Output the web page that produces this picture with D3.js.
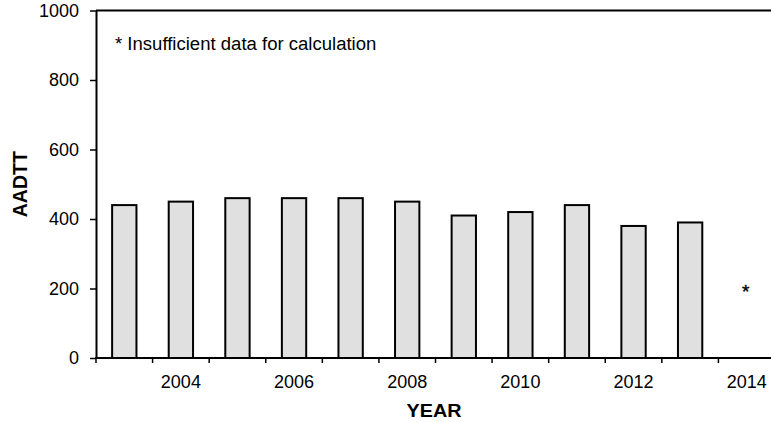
<!DOCTYPE html>
<html><head><meta charset="utf-8">
<script src="https://cdn.jsdelivr.net/npm/d3@7"></script>
<style>
body{margin:0;background:#fff;}
svg{display:block;font-family:"Liberation Sans",Arial,sans-serif;}
</style></head>
<body><svg id="c" width="771" height="422"></svg>
<script>
const years = [2003,2004,2005,2006,2007,2008,2009,2010,2011,2012,2013,2014];
const aadtt = [440,450,460,460,460,450,410,420,440,380,390,null];
const yTicks = [0,200,400,600,800,1000];
const xTickLabels = [2004,2006,2008,2010,2012,2014];
const missingYears = [2014];
const noteText = "* Insufficient data for calculation";

const svg = d3.select("#c");
const L=96, R=775, T=10.5, B=358;
const x = d3.scaleBand().domain(years).range([L,R]).paddingInner(0).paddingOuter(0);
const y = d3.scaleLinear().domain([0,1000]).range([B,T]);
const barW = x.bandwidth()*0.43;

// top frame line
svg.append("line").attr("x1",L).attr("x2",771).attr("y1",T).attr("y2",T)
  .attr("stroke","#000").attr("stroke-width",2);

// bars
const data = years.map((yr,i)=>({yr,v:aadtt[i]})).filter(d=>d.v!=null);
svg.append("g").selectAll("rect").data(data).join("rect")
  .attr("x",d=>x(d.yr)+x.bandwidth()/2-barW/2)
  .attr("y",d=>y(d.v))
  .attr("width",barW)
  .attr("height",d=>B-y(d.v))
  .attr("fill","#e0e0e0").attr("stroke","#000").attr("stroke-width",2);

// y axis
const ya = svg.append("g").attr("transform",`translate(${L},0)`)
  .call(d3.axisLeft(y).tickValues(yTicks).tickFormat(d3.format("d")).tickSize(6).tickSizeOuter(0).tickPadding(11));
ya.select(".domain").attr("stroke-width",2);
ya.selectAll(".tick line").attr("stroke-width",1.5);
ya.selectAll(".tick text").attr("font-size",18).attr("fill","#000")
  .attr("font-family",'"Liberation Sans",Arial,sans-serif');

// x axis line
svg.append("line").attr("x1",L-1).attr("x2",771).attr("y1",B).attr("y2",B)
  .attr("stroke","#000").attr("stroke-width",2);
// boundary ticks
svg.append("g").selectAll("line").data(years).join("line")
  .attr("x1",d=>x(d)).attr("x2",d=>x(d)).attr("y1",B).attr("y2",B+5)
  .attr("stroke","#000").attr("stroke-width",1.5);
// labels
svg.append("g").selectAll("text").data(xTickLabels).join("text")
  .attr("x",d=>x(d)+x.bandwidth()/2).attr("y",B+30)
  .attr("text-anchor","middle").attr("font-size",18).text(d=>d);

// missing markers
svg.append("g").selectAll("text").data(missingYears).join("text")
  .attr("x",d=>x(d)+x.bandwidth()/2-1).attr("y",y(200)+9)
  .attr("text-anchor","middle").attr("font-size",19).attr("stroke","#000").attr("stroke-width",0.4).text("*");

// note
svg.append("text").attr("transform",`translate(115,50) scale(1.03,1)`)
  .attr("font-size",18).text(noteText);

// axis titles
svg.append("text").attr("transform",`translate(434,417) scale(1.04,1)`)
  .attr("text-anchor","middle").attr("font-size",19).attr("font-weight","bold").text("YEAR");
svg.append("text").attr("transform",`translate(27,${(T+B)/2}) rotate(-90)`)
  .attr("text-anchor","middle").attr("font-size",19.5).attr("font-weight","bold").text("AADTT");
</script></body></html>
